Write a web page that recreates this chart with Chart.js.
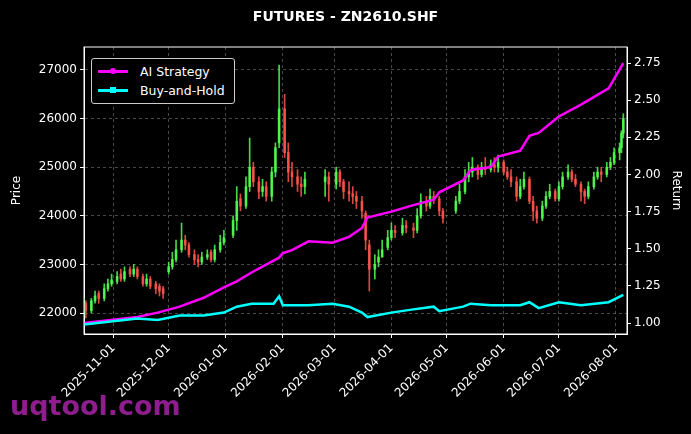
<!DOCTYPE html>
<html><head><meta charset="utf-8">
<script src="https://cdn.jsdelivr.net/npm/chart.js@4"></script>
<style>
html,body{margin:0;padding:0;background:#000;}
#wrap{position:relative;width:691px;height:434px;font-family:"DejaVu Sans",sans-serif;}
#title{position:absolute;left:0;width:691px;top:8px;text-align:center;color:#fff;font-weight:bold;font-size:14px;}
#legend{position:absolute;left:91px;top:58px;width:142px;padding:3px 0;border:1px solid #ccc;border-radius:3px;background:#000;color:#fff;font-size:12.5px;}
.li{display:flex;align-items:center;height:19px;padding-left:6px;}
.sw{position:relative;width:30px;height:3px;margin-right:12px;}
.sw i{position:absolute;left:12px;top:-2px;width:6px;height:6px;border-radius:3px;}
#wm{position:absolute;left:10px;top:390px;color:#8e1d8e;font-weight:bold;font-size:27px;font-family:"DejaVu Sans",sans-serif;}
</style></head><body>
<div id="wrap">
<canvas id="c" width="691" height="434"></canvas>
<div id="title">FUTURES - ZN2610.SHF</div>
<div id="legend">
<div class="li"><div class="sw" style="background:#ff00ff"><i style="background:#ff00ff"></i></div>AI Strategy</div>
<div class="li"><div class="sw" style="background:#00ffff"><i style="background:#00ffff;border-radius:0"></i></div>Buy-and-Hold</div>
</div>
<div id="wm">uqtool.com</div>
</div>
<script>
const candleDates = [
"2025-10-16","2025-10-17","2025-10-20","2025-10-22","2025-10-24","2025-10-27","2025-10-29","2025-10-31",
"2025-11-03","2025-11-05","2025-11-07","2025-11-10","2025-11-12","2025-11-14","2025-11-17","2025-11-19","2025-11-21","2025-11-24","2025-11-26","2025-11-28",
"2025-12-01","2025-12-03","2025-12-05","2025-12-08","2025-12-10","2025-12-12","2025-12-15","2025-12-17","2025-12-19","2025-12-22","2025-12-24","2025-12-26","2025-12-29","2025-12-31",
"2026-01-05","2026-01-07","2026-01-09","2026-01-12","2026-01-14","2026-01-16","2026-01-19","2026-01-21","2026-01-23","2026-01-26","2026-01-28","2026-01-30",
"2026-02-02","2026-02-04","2026-02-06","2026-02-09","2026-02-11","2026-02-13","2026-02-24","2026-02-26",
"2026-03-02","2026-03-04","2026-03-06","2026-03-09","2026-03-11","2026-03-13","2026-03-16","2026-03-18","2026-03-20","2026-03-23","2026-03-25","2026-03-27","2026-03-30",
"2026-04-01","2026-04-03","2026-04-07","2026-04-09","2026-04-13","2026-04-15","2026-04-17","2026-04-20","2026-04-22","2026-04-24","2026-04-27","2026-04-29",
"2026-05-06","2026-05-08","2026-05-11","2026-05-13","2026-05-15","2026-05-18","2026-05-20","2026-05-22","2026-05-25","2026-05-27","2026-05-29",
"2026-06-01","2026-06-03","2026-06-05","2026-06-08","2026-06-10","2026-06-12","2026-06-15","2026-06-17","2026-06-19","2026-06-22","2026-06-24","2026-06-26","2026-06-29",
"2026-07-01","2026-07-03","2026-07-06","2026-07-08","2026-07-10","2026-07-13","2026-07-15","2026-07-17","2026-07-20","2026-07-22","2026-07-24","2026-07-27","2026-07-29","2026-07-31",
"2026-08-03","2026-08-04","2026-08-05"];
const opens = [22000,22200,22050,22250,22400,22300,22500,22600,
22650,22800,22700,22900,22800,22900,22750,22600,22700,22600,22550,22500,
22850,22950,23100,23300,23500,23400,23200,23100,23050,23150,23250,23100,23300,23450,
23600,23900,24350,24200,24600,25000,24700,24500,24600,24400,24900,25500,
26200,25300,24900,24800,24650,24600,24700,24800,
24650,24900,24700,24500,24450,24400,24300,24050,23400,22900,23050,23150,23350,
23550,23700,23650,23800,23750,23700,24000,24300,24200,24400,24350,24100,
24100,24300,24500,24800,24900,25000,24850,25000,24950,25050,25000,
25100,24900,24800,24700,24400,24600,24750,24300,24100,23950,24200,24400,24500,
24350,24600,24800,24900,24750,24650,24500,24400,24600,24800,24900,24850,25000,25100,
25300,25400,25700];
const highs = [22300,22250,22300,22450,22450,22600,22700,22800,
22850,22900,22950,22950,23000,22950,22800,22800,22750,22650,22600,22550,
23050,23250,23500,23850,23600,23450,23300,23200,23250,23300,23300,23400,23600,23700,
24000,24600,24450,24800,25600,25100,24800,24750,24700,25000,25500,27100,
26500,25500,25100,24950,24800,24900,24950,24900,
25000,24950,24750,24700,24600,24500,24400,24100,23500,23200,23300,23500,23700,
23850,23800,23950,23900,23850,24150,24450,24400,24550,24500,24400,24150,
24400,24650,24950,25100,25200,25050,25100,25200,25150,25200,25250,
25150,25000,24950,24800,24750,24900,24800,24400,24200,24300,24500,24650,24550,
24700,24900,25050,24950,24850,24700,24550,24700,24900,25000,25000,25100,25200,25400,
25500,25750,26100];
const lows = [21950,21900,22000,22200,22200,22250,22450,22550,
22600,22650,22650,22750,22750,22700,22550,22550,22500,22400,22350,22300,
22800,22900,23050,23250,23300,23150,23000,22950,23000,23100,23050,23050,23250,23400,
23550,23700,24100,24150,24500,24600,24350,24400,24300,24300,24800,25400,
25200,24700,24600,24500,24400,24450,24400,24300,
24550,24600,24350,24300,24250,24150,23950,23300,22450,22700,22950,23150,23300,
23500,23550,23600,23650,23550,23650,23950,24100,24150,24250,24000,23850,
24050,24250,24450,24700,24800,24750,24800,24850,24900,24900,24900,
24850,24750,24600,24300,24350,24550,24250,23900,23850,23900,24150,24350,24300,
24300,24550,24750,24700,24600,24300,24250,24350,24550,24750,24700,24800,24950,25050,
25150,25300,25600];
const closes = [22150,22050,22250,22350,22300,22500,22600,22680,
22750,22700,22850,22800,22900,22750,22600,22700,22550,22500,22450,22400,
22950,23100,23300,23500,23400,23200,23100,23050,23150,23200,23100,23300,23450,23550,
23900,24300,24200,24600,25000,24700,24500,24600,24400,24900,25400,26200,
25300,24900,24800,24650,24600,24750,24800,24650,
24900,24700,24500,24450,24400,24300,24100,23500,22900,23000,23150,23300,23550,
23700,23650,23800,23750,23700,24000,24300,24200,24400,24350,24100,23950,
24300,24500,24800,24900,25000,24850,25000,24950,25050,25000,25100,
24900,24800,24700,24400,24600,24750,24300,24100,23950,24200,24400,24500,24350,
24600,24800,24900,24750,24650,24500,24400,24600,24800,24900,24850,25000,25100,25300,
25400,25700,26000];

const retDates = ["2025-10-16","2025-11-14","2025-11-25","2025-12-07","2025-12-20","2025-12-31","2026-01-07","2026-01-15","2026-01-27","2026-01-30","2026-02-01","2026-02-06","2026-02-15","2026-02-28","2026-03-09","2026-03-16","2026-03-19","2026-04-01","2026-04-12","2026-04-24","2026-04-27","2026-05-10","2026-05-14","2026-05-25","2026-05-29","2026-06-10","2026-06-15","2026-06-20","2026-07-01","2026-07-13","2026-07-28","2026-08-05"];
const aiStrategy = [1.00,1.04,1.07,1.11,1.17,1.24,1.28,1.34,1.42,1.44,1.47,1.49,1.55,1.54,1.58,1.64,1.71,1.75,1.79,1.83,1.88,1.96,2.03,2.05,2.12,2.16,2.26,2.28,2.39,2.47,2.58,2.75];
const buyHold = [0.99,1.03,1.02,1.05,1.05,1.07,1.11,1.13,1.13,1.18,1.12,1.12,1.12,1.13,1.11,1.07,1.04,1.07,1.09,1.11,1.08,1.11,1.13,1.12,1.12,1.12,1.14,1.10,1.14,1.12,1.14,1.19];

const monthTicks = ["2025-11-01","2025-12-01","2026-01-01","2026-02-01","2026-03-01","2026-04-01","2026-05-01","2026-06-01","2026-07-01","2026-08-01"];
const priceTicks = [22000,23000,24000,25000,26000,27000];
const returnTicks = [1.00,1.25,1.50,1.75,2.00,2.25,2.50,2.75];

const T0 = Date.parse("2025-10-16");
const day = s => (Date.parse(s)-T0)/864e5;
const tickDays = monthTicks.map(day);
const up = closes.map((c,i)=>c>=opens[i]);
const col = up.map(u=>u?'rgba(80,255,80,0.85)':'rgba(255,85,75,0.85)');

const wicks = candleDates.map((d,i)=>({x:day(d),y:[lows[i],highs[i]]}));
const bodies = candleDates.map((d,i)=>({x:day(d),y:[Math.min(opens[i],closes[i]),Math.max(opens[i],closes[i])+1]}));
const mk = n => retDates.map((d,i)=>({x:day(d),y:n[i]}));
const F = {size:12,family:'DejaVu Sans'};

new Chart(document.getElementById('c'),{
 data:{datasets:[
  {type:'bar',data:wicks,backgroundColor:col,barThickness:1,grouped:false,yAxisID:'y',order:3},
  {type:'bar',data:bodies,backgroundColor:col,barThickness:2,grouped:false,yAxisID:'y',order:2},
  {type:'line',data:mk(aiStrategy),borderColor:'#ff00ff',backgroundColor:'#ff00ff',borderWidth:2.5,pointRadius:0,yAxisID:'y1',order:1},
  {type:'line',data:mk(buyHold),borderColor:'#00ffff',backgroundColor:'#00ffff',borderWidth:2.5,pointRadius:0,yAxisID:'y1',order:0}
 ]},
 options:{responsive:false,animation:false,
  layout:{padding:{top:47,left:0,right:0,bottom:0}},
  plugins:{legend:{display:false},tooltip:{enabled:false}},
  scales:{
   x:{type:'linear',min:0,max:295,offset:false,
     afterBuildTicks:s=>{s.ticks=tickDays.map(v=>({value:v}));},
     afterFit:s=>{s.height=100;},
     ticks:{color:'#fff',font:F,minRotation:45,maxRotation:45,
       callback:(v)=>{const i=tickDays.indexOf(v);return i>=0?monthTicks[i]:'';}},
     grid:{offset:false,color:'rgba(160,160,160,0.45)',tickColor:'#fff',tickLength:4},border:{color:'#fff',dash:[3,3]}},
   y:{position:'left',min:21568,max:27473,
     afterBuildTicks:s=>{s.ticks=priceTicks.map(v=>({value:v}));},
     afterFit:s=>{s.width=84;},
     title:{display:true,text:'Price',color:'#fff',font:F,padding:{top:10,bottom:0}},
     ticks:{color:'#fff',font:F,callback:v=>String(v)},
     grid:{color:'rgba(160,160,160,0.45)',tickColor:'#fff',tickLength:4},border:{color:'#fff',dash:[3,3]}},
   y1:{position:'right',min:0.926,max:2.858,
     afterBuildTicks:s=>{s.ticks=returnTicks.map(v=>({value:v}));},
     afterFit:s=>{s.width=64;},
     title:{display:true,text:'Return',color:'#fff',font:F,padding:{top:8,bottom:0}},
     ticks:{color:'#fff',font:F,callback:v=>v.toFixed(2)},
     grid:{drawOnChartArea:false,tickColor:'#fff',tickLength:4},border:{color:'#fff'}}
  }},
 plugins:[{id:'frame',afterDraw(c){const a=c.chartArea,g=c.ctx;g.save();g.strokeStyle='#fff';g.lineWidth=1;g.strokeRect(a.left,a.top,a.right-a.left,a.bottom-a.top);g.restore();}}]
});
</script></body></html>
